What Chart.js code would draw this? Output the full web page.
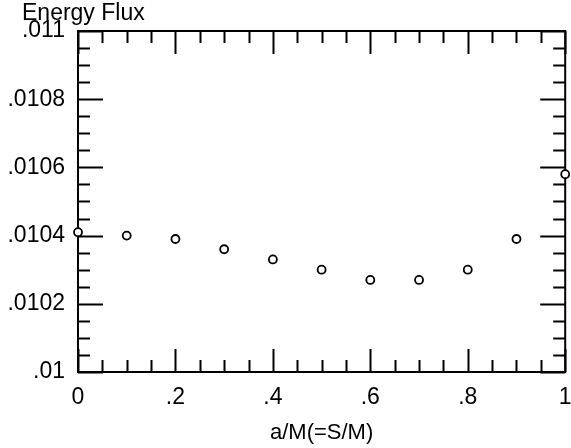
<!DOCTYPE html>
<html>
<head>
<meta charset="utf-8">
<script src="https://cdn.jsdelivr.net/npm/chart.js@4/dist/chart.umd.min.js"></script>
<style>
	body { margin: 0; background: #fff; overflow: hidden; }
	#box { width: 571px; height: 448px; position: relative; }
</style>
</head>
<body>
<div id="box"><canvas id="graficoFluxo"></canvas></div>
<script>
var spinValues = [0, 0.1, 0.2, 0.3, 0.4, 0.5, 0.6, 0.7, 0.8, 0.9, 1.0];
var fluxValues = [0.01041, 0.01040, 0.01039, 0.01036, 0.01033, 0.01030, 0.01027, 0.01027, 0.01030, 0.01039, 0.01058];

var xTicks = [0, 0.2, 0.4, 0.6, 0.8, 1];
var xTickLabels = ['0', '.2', '.4', '.6', '.8', '1'];
var yTicks = [0.01, 0.0102, 0.0104, 0.0106, 0.0108, 0.011];
var yTickLabels = ['.01', '.0102', '.0104', '.0106', '.0108', '.011'];

var fonte = '"Liberation Sans", Arial, Helvetica, sans-serif';

// ticks pointing inward on all four sides, like the original plot
var ticksParaDentro = {
	id: 'ticksParaDentro',
	beforeDatasetsDraw: function(chart) {
		var ctx = chart.ctx;
		var area = chart.chartArea;
		var x = chart.scales.x;
		var y = chart.scales.y;
		var maior = 23, menor = 12;
		var i, v, p;

		ctx.save();
		ctx.strokeStyle = '#000';
		ctx.lineWidth = 2;
		ctx.strokeRect(area.left, area.top, area.right - area.left, area.bottom - area.top);

		ctx.beginPath();
		for (i = 0; i <= 20; i++) {
			v = i * 0.05;
			p = Math.round(x.getPixelForValue(v)) + 0.5;
			var lx = (i % 4 === 0) ? maior : menor;
			ctx.moveTo(p, area.bottom); ctx.lineTo(p, area.bottom - lx);
			ctx.moveTo(p, area.top); ctx.lineTo(p, area.top + lx);
		}
		for (i = 0; i <= 20; i++) {
			v = 0.01 + i * 0.00005;
			p = Math.round(y.getPixelForValue(v)) + 0.5;
			var ly = (i % 4 === 0) ? maior + 2 : menor;
			ctx.moveTo(area.left, p); ctx.lineTo(area.left + ly, p);
			ctx.moveTo(area.right, p); ctx.lineTo(area.right - ly, p);
		}
		ctx.stroke();

		ctx.fillStyle = '#000';
		ctx.font = '23px ' + fonte;
		ctx.textAlign = 'left';
		ctx.textBaseline = 'top';
		ctx.fillText('Energy Flux', 22, 2);
		ctx.restore();
	}
};

var grafico = new Chart(document.getElementById('graficoFluxo').getContext('2d'), {
	type: 'scatter',
	data: {
		datasets: [{
			label: 'Energy Flux',
			data: spinValues.map(function(s, i) { return { x: s, y: fluxValues[i] }; }),
			pointStyle: 'circle',
			pointRadius: 4,
			pointBorderWidth: 1.8,
			pointBorderColor: '#000',
			pointBackgroundColor: '#fff',
			clip: false
		}]
	},
	options: {
		responsive: true,
		maintainAspectRatio: false,
		animation: false,
		layout: { padding: { left: 0, right: 4, top: 31, bottom: 0 } },
		plugins: {
			legend: { display: false },
			tooltip: { enabled: false }
		},
		scales: {
			x: {
				type: 'linear',
				min: 0,
				max: 1,
				afterBuildTicks: function(scale) {
					scale.ticks = xTicks.map(function(v) { return { value: v }; });
				},
				afterFit: function(scale) {
					scale.height = 76;
					scale.paddingLeft = 0;
					scale.paddingRight = 0;
				},
				grid: { display: false, drawTicks: false },
				border: { display: false },
				ticks: {
					color: '#000',
					font: { family: fonte, size: 23 },
					padding: 12,
					maxRotation: 0,
					callback: function(v, i) { return xTickLabels[i]; }
				},
				title: {
					display: true,
					text: 'a/M(=S/M)',
					color: '#000',
					font: { family: fonte, size: 22 },
					padding: { top: 0, bottom: 2 }
				}
			},
			y: {
				type: 'linear',
				min: 0.01,
				max: 0.011,
				afterBuildTicks: function(scale) {
					scale.ticks = yTicks.map(function(v) { return { value: v }; });
				},
				afterFit: function(scale) {
					scale.width = 78;
					scale.paddingTop = 0;
					scale.paddingBottom = 0;
				},
				grid: { display: false, drawTicks: false },
				border: { display: false },
				ticks: {
					color: '#000',
					font: { family: fonte, size: 23 },
					padding: 13,
					callback: function(v, i) { return yTickLabels[i]; }
				}
			}
		}
	},
	plugins: [ticksParaDentro]
});
</script>
</body>
</html>
